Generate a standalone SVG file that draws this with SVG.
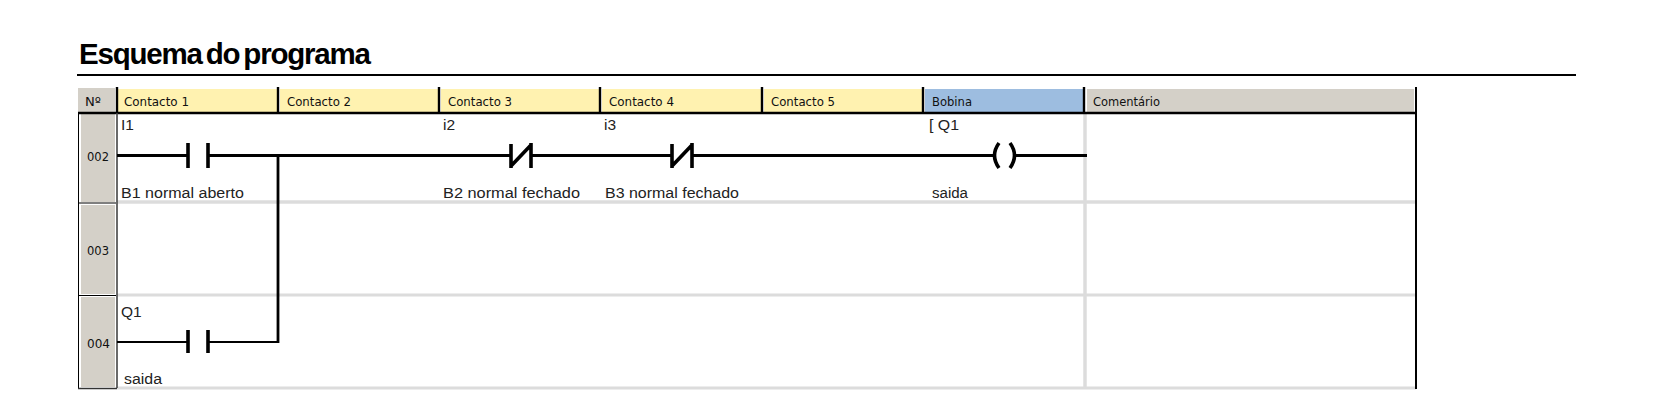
<svg xmlns="http://www.w3.org/2000/svg" width="1653" height="409" viewBox="0 0 1653 409">
<style>
.t{font-family:"Liberation Sans",Arial,sans-serif;font-size:15.5px;fill:#222}
.h{font-family:"DejaVu Sans",Verdana,sans-serif;font-size:12.5px;fill:#111}
.title{font-family:"Liberation Sans",Arial,sans-serif;font-size:29.5px;font-weight:bold;fill:#000;word-spacing:-3px}
.k{stroke:#000;fill:none}
.g{stroke:#dcdcdc;fill:none}
.w{stroke:#000;stroke-width:2.8;fill:none}
.c{stroke:#000;stroke-width:3.6;fill:none}
</style>
<rect width="1653" height="409" fill="#fff"/>
<g id="title">
<text class="title" x="79" y="63.500" textLength="292">Esquema do programa</text>
<line class="k" x1="77" y1="75" x2="1576" y2="75" stroke-width="2"/>
</g>
<g id="table">
<rect x="78" y="88" width="37" height="24" fill="#d4d0c8"/>
<rect x="81" y="114" width="34" height="88" fill="#d4d0c8"/>
<rect x="81" y="205" width="34" height="89" fill="#d4d0c8"/>
<rect x="81" y="297" width="34" height="90" fill="#d4d0c8"/>
<rect x="118" y="89" width="159" height="23" fill="#fff2b0"/>
<rect x="280" y="89" width="158" height="23" fill="#fff2b0"/>
<rect x="441" y="89" width="158" height="23" fill="#fff2b0"/>
<rect x="602" y="89" width="159" height="23" fill="#fff2b0"/>
<rect x="764" y="89" width="158" height="23" fill="#fff2b0"/>
<rect x="925" y="89" width="158" height="23" fill="#9dbde0"/>
<rect x="1087" y="89" width="327" height="23" fill="#d4d0c8"/>
<line class="g" x1="117" y1="202" x2="1416" y2="202" stroke-width="3.5"/>
<line class="g" x1="117" y1="295" x2="1416" y2="295" stroke-width="3"/>
<line class="g" x1="117" y1="388" x2="1416" y2="388" stroke-width="3"/>
<line class="g" x1="1085" y1="113" x2="1085" y2="388" stroke-width="3.5"/>
<line class="k" x1="78" y1="113" x2="1416" y2="113" stroke-width="2.4"/>
<g class="k" stroke-width="2.4">
<line x1="117" y1="87" x2="117" y2="113"/>
<line x1="278" y1="87" x2="278" y2="113"/>
<line x1="439" y1="87" x2="439" y2="113"/>
<line x1="600" y1="87" x2="600" y2="113"/>
<line x1="762" y1="87" x2="762" y2="113"/>
<line x1="923" y1="87" x2="923" y2="113"/>
<line x1="1084" y1="87" x2="1084" y2="113"/>
</g>
<line class="k" x1="1416" y1="87" x2="1416" y2="389" stroke-width="2"/>
<line x1="117" y1="113" x2="117" y2="388" stroke="#444" stroke-width="1.6"/>
<line class="k" x1="78.500" y1="113" x2="78.500" y2="389" stroke-width="1"/>
<line class="k" x1="78" y1="203" x2="116" y2="203" stroke-width="1"/>
<line class="k" x1="78" y1="295.500" x2="116" y2="295.500" stroke-width="1"/>
<line x1="78" y1="388.500" x2="117" y2="388.500" stroke="#333" stroke-width="1.6"/>
</g>
<g id="headers">
<text class="h" x="85" y="106" textLength="16" lengthAdjust="spacingAndGlyphs">Nº</text>
<text class="h" x="124" y="106" textLength="65" lengthAdjust="spacingAndGlyphs">Contacto 1</text>
<text class="h" x="287" y="106" textLength="64" lengthAdjust="spacingAndGlyphs">Contacto 2</text>
<text class="h" x="448" y="106" textLength="64" lengthAdjust="spacingAndGlyphs">Contacto 3</text>
<text class="h" x="609" y="106" textLength="65" lengthAdjust="spacingAndGlyphs">Contacto 4</text>
<text class="h" x="771" y="106" textLength="64" lengthAdjust="spacingAndGlyphs">Contacto 5</text>
<text class="h" x="932" y="106" textLength="40" lengthAdjust="spacingAndGlyphs">Bobina</text>
<text class="h" x="1093" y="106" textLength="67" lengthAdjust="spacingAndGlyphs">Comentário</text>
</g>
<g id="row-numbers">
<text class="h" x="87" y="161" textLength="22" lengthAdjust="spacingAndGlyphs">002</text>
<text class="h" x="87" y="255" textLength="22" lengthAdjust="spacingAndGlyphs">003</text>
<text class="h" x="87" y="348" textLength="23" lengthAdjust="spacingAndGlyphs">004</text>
</g>
<g id="connectors">
<line class="w" x1="117" y1="155.500" x2="187" y2="155.500"/>
<line class="w" x1="208" y1="155.500" x2="511" y2="155.500"/>
<line class="w" x1="531" y1="155.500" x2="672" y2="155.500"/>
<line class="w" x1="692" y1="155.500" x2="995" y2="155.500"/>
<line class="w" x1="1014" y1="155.500" x2="1087" y2="155.500"/>
<line class="w" x1="278" y1="155" x2="278" y2="343"/>
<line class="k" x1="117" y1="342" x2="187" y2="342" stroke-width="2.200"/>
<line class="k" x1="208" y1="342" x2="279" y2="342" stroke-width="2.200"/>
</g>
<g id="contact-i1">
<line class="c" x1="188" y1="143" x2="188" y2="168"/>
<line class="c" x1="208" y1="143" x2="208" y2="168"/>
<text class="t" x="121" y="130">I1</text>
<text class="t" x="121" y="198" textLength="123" lengthAdjust="spacingAndGlyphs">B1 normal aberto</text>
</g>
<g id="contact-i2">
<path class="c" d="M511 144V168M531 143V168M511 166L531 145"/>
<text class="t" x="443" y="130">i2</text>
<text class="t" x="443" y="198" textLength="137" lengthAdjust="spacingAndGlyphs">B2 normal fechado</text>
</g>
<g id="contact-i3">
<path class="c" d="M672 144V168M692 143V168M672 166L692 145"/>
<text class="t" x="604" y="130">i3</text>
<text class="t" x="605" y="198" textLength="134" lengthAdjust="spacingAndGlyphs">B3 normal fechado</text>
</g>
<g id="coil-q1">
<path class="c" d="M999 143Q990 155.500 999 168M1010 143Q1019 155.500 1010 168"/>
<text class="t" x="929" y="130" textLength="30" lengthAdjust="spacingAndGlyphs">[ Q1</text>
<text class="t" x="932" y="198" textLength="36" lengthAdjust="spacingAndGlyphs">saida</text>
</g>
<g id="contact-q1">
<line class="c" x1="188" y1="330" x2="188" y2="353"/>
<line class="c" x1="208" y1="330" x2="208" y2="353"/>
<text class="t" x="121" y="317">Q1</text>
<text class="t" x="124" y="384" textLength="38" lengthAdjust="spacingAndGlyphs">saida</text>
</g>
</svg>
